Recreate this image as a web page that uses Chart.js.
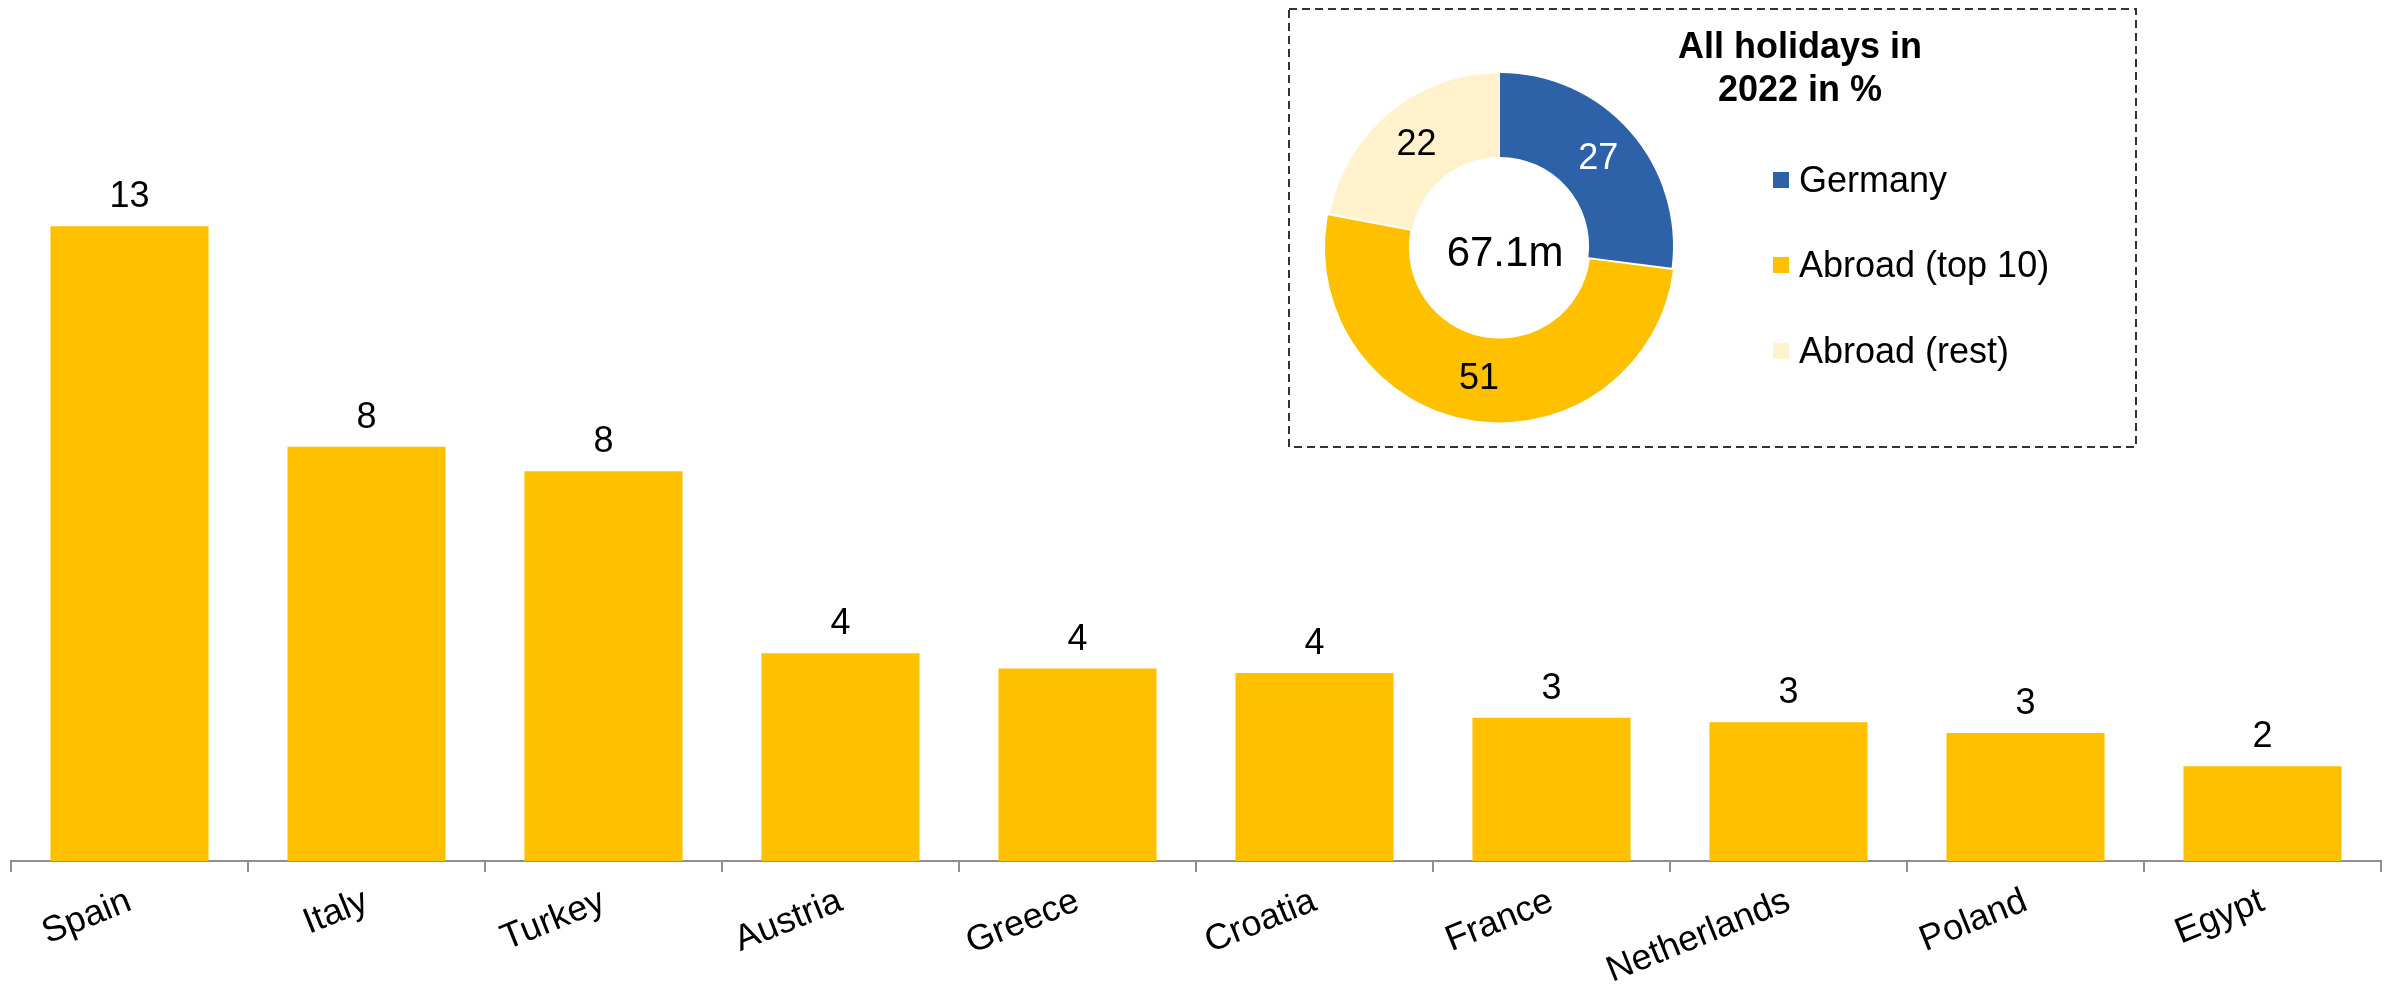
<!DOCTYPE html>
<html>
<head>
<meta charset="utf-8">
<script src="https://cdn.jsdelivr.net/npm/chart.js@4"></script>
<style>
  body { margin: 0; background: #fff; font-family: "Liberation Sans", Arial, sans-serif; }
  #wrap { position: relative; width: 2399px; height: 989px; }
  #barChart { position: absolute; left: 0; top: 0; }
  #pieChart { position: absolute; left: 1288px; top: 8px; }
  #pieTitle { position: absolute; left: 1650px; width: 300px; top: 24px; text-align: center;
              font-weight: bold; font-size: 36px; line-height: 43px; color: #000; }
  #pieLegend { position: absolute; left: 1773px; top: 137px; }
  .item { display: flex; align-items: center; height: 85.5px; font-size: 36px; color: #000; }
  .item span.box { width: 16px; height: 16px; margin-right: 10px; display: inline-block; }
</style>
</head>
<body>
<div id="wrap">
  <canvas id="barChart" width="2399" height="989"></canvas>
  <canvas id="pieChart" width="849" height="440"></canvas>
  <div id="pieTitle">All holidays in<br>2022 in %</div>
  <div id="pieLegend"></div>
</div>
<script>
// top 10 destinations, holidays in millions
const paises = ['Spain', 'Italy', 'Turkey', 'Austria', 'Greece', 'Croatia', 'France', 'Netherlands', 'Poland', 'Egypt'];
const viajes = [12.8, 8.35, 7.86, 4.19, 3.88, 3.79, 2.89, 2.80, 2.58, 1.91];

// share of all holidays in %
const destinos = ['Germany', 'Abroad (top 10)', 'Abroad (rest)'];
const cuotas = [27, 51, 22];
const coloresCuota = ['#2E62A8', '#FFC000', '#FFF2CC'];
const totalTexto = '67.1m';

const FUENTE = '"Liberation Sans", Arial, sans-serif';
Chart.defaults.font.family = FUENTE;

// numbers above the bars
const etiquetasBarras = {
    id: 'etiquetasBarras',
    afterDatasetsDraw(chart) {
        const ctx = chart.ctx;
        const meta = chart.getDatasetMeta(0);
        ctx.save();
        ctx.font = '36px ' + FUENTE;
        ctx.fillStyle = '#000';
        ctx.textAlign = 'center';
        ctx.textBaseline = 'alphabetic';
        meta.data.forEach((bar, i) => {
            ctx.fillText(Math.round(viajes[i]), bar.x, bar.y - 19);
        });
        ctx.restore();
    }
};

new Chart(document.getElementById('barChart'), {
    type: 'bar',
    data: {
        labels: paises,
        datasets: [{
            data: viajes,
            backgroundColor: '#FFC000',
            borderWidth: 0,
            barPercentage: 0.667,
            categoryPercentage: 1.0
        }]
    },
    options: {
        responsive: false,
        animation: false,
        layout: { padding: { left: 11, right: 18, top: 0, bottom: 0 } },
        scales: {
            y: { display: false, min: 0, max: 17.36 },
            x: {
                grid: { drawOnChartArea: false, drawTicks: true, tickLength: 11, color: '#8f8f8f', lineWidth: 2, offset: true },
                border: { display: true, color: '#8f8f8f', width: 2 },
                ticks: { color: '#000', font: { size: 36 }, minRotation: 22, maxRotation: 22, autoSkip: false, padding: 8 },
                afterFit(scale) { scale.height = 128; }
            }
        },
        plugins: { legend: { display: false }, tooltip: { enabled: false } }
    },
    plugins: [etiquetasBarras]
});

// dashed frame + labels on the ring
const marcoYEtiquetas = {
    id: 'marcoYEtiquetas',
    beforeDraw(chart) {
        const ctx = chart.ctx;
        ctx.save();
        ctx.fillStyle = '#fff';
        ctx.fillRect(0, 0, chart.width, chart.height);
        ctx.strokeStyle = '#333';
        ctx.lineWidth = 2;
        ctx.setLineDash([8, 5]);
        ctx.strokeRect(1, 1, chart.width - 2, chart.height - 2);
        ctx.restore();
    },
    afterDatasetsDraw(chart) {
        const ctx = chart.ctx;
        const arcs = chart.getDatasetMeta(0).data;
        ctx.save();
        ctx.textAlign = 'center';
        ctx.textBaseline = 'middle';
        ctx.font = '36px ' + FUENTE;
        arcs.forEach((arc, i) => {
            const p = arc.getCenterPoint();
            ctx.fillStyle = i === 0 ? '#fff' : '#000';
            ctx.fillText(cuotas[i], p.x, p.y);
        });
        ctx.font = '42px ' + FUENTE;
        ctx.fillStyle = '#000';
        ctx.fillText(totalTexto, arcs[0].x + 5, arcs[0].y + 8);
        ctx.restore();
    }
};

new Chart(document.getElementById('pieChart'), {
    type: 'doughnut',
    data: {
        labels: destinos,
        datasets: [{
            data: cuotas,
            backgroundColor: coloresCuota,
            borderWidth: 0,
            offset: [0, 7, 0]
        }]
    },
    options: {
        responsive: false,
        animation: false,
        radius: 173,
        cutout: '51.5%',
        layout: { padding: { left: 30, right: 455, top: 50, bottom: 14 } },
        plugins: { legend: { display: false }, tooltip: { enabled: false } }
    },
    plugins: [marcoYEtiquetas]
});

// legend next to the ring
const leyenda = document.getElementById('pieLegend');
destinos.forEach((d, i) => {
    const fila = document.createElement('div');
    fila.className = 'item';
    fila.innerHTML = '<span class="box" style="background:' + coloresCuota[i] + '"></span>' + d;
    leyenda.appendChild(fila);
});
</script>
</body>
</html>
